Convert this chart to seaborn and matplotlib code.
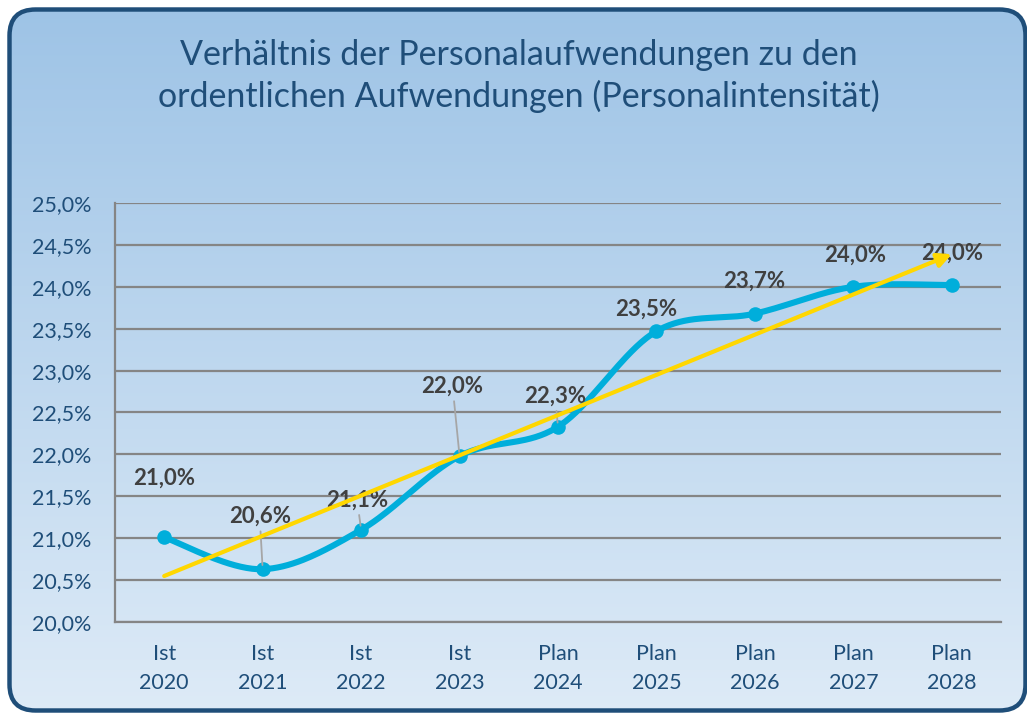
import numpy as np
import pandas as pd
import matplotlib
matplotlib.use("Agg")
import matplotlib.pyplot as plt
import seaborn as sns
from matplotlib.patches import FancyBboxPatch
from matplotlib.colors import LinearSegmentedColormap

# ---------------- data ----------------
categories = ["Ist\n2020", "Ist\n2021", "Ist\n2022", "Ist\n2023", "Plan\n2024",
              "Plan\n2025", "Plan\n2026", "Plan\n2027", "Plan\n2028"]
values = [21.01, 20.63, 21.10, 21.98, 22.33, 23.47, 23.68, 24.00, 24.02]
y_ticks = [20.0, 20.5, 21.0, 21.5, 22.0, 22.5, 23.0, 23.5, 24.0, 24.5, 25.0]
title = "Verhältnis der Personalaufwendungen zu den\nordentlichen Aufwendungen (Personalintensität)"

# label offsets (pixels) and whether a leader line is drawn
label_dx = [0, -3, -4, -7, -3, -10, -1, 2, 0]
label_dy = [59, 53, 30, 70, 31, 22, 32, 32, 32]
leader = [False, True, True, True, True, False, False, False, False]

TXT = "#1F4E79"
LINE = "#00AEDB"
TREND = "#FFD700"
GRID = "#858585"

sns.set_theme(style="white")
plt.rcParams["font.family"] = ["Lato", "DejaVu Sans"]

W, H = 1027, 715
fig = plt.figure(figsize=(W / 100, H / 100), dpi=100)
fig.patch.set_facecolor("white")

# ---------------- background panel ----------------
bg = fig.add_axes([0, 0, 1, 1])
bg.axis("off")
cmap = LinearSegmentedColormap.from_list("g", ["#9DC3E6", "#DEEBF7"])
im = bg.imshow(np.linspace(0, 1, 256).reshape(-1, 1), cmap=cmap,
               extent=(0, W, H, 0), aspect="auto", zorder=0)
panel = FancyBboxPatch((9.5, 9.5), 1016, 701,
                       boxstyle="round,pad=0,rounding_size=26",
                       fc="none", ec=TXT, lw=3.2, zorder=2)
bg.add_patch(panel)
im.set_clip_path(panel)
bg.set_xlim(0, W)
bg.set_ylim(H, 0)

TFS = 24.5
fig.text(519 / W, 1 - 76 / H, title, ha="center", va="center",
         fontsize=TFS, color=TXT, linespacing=46 / (TFS * 100 / 72))

# ---------------- main axes ----------------
ax = fig.add_axes([115 / W, 1 - 622 / H, 886 / W, 419 / H])
ax.patch.set_alpha(0)

x = np.arange(len(values))
vals = np.array(values)

# Excel-like smoothed line (Catmull-Rom / Bezier)
pts = np.column_stack([x, vals]).astype(float)
ext = np.vstack([pts[0], pts, pts[-1]])
t = np.linspace(0, 1, 40)
curve = []
for i in range(len(pts) - 1):
    p0 = ext[i + 1]
    p3 = ext[i + 2]
    p1 = p0 + (ext[i + 2] - ext[i]) / 6
    p2 = p3 - (ext[i + 3] - ext[i + 1]) / 6
    seg = ((1 - t) ** 3)[:, None] * p0 + (3 * (1 - t) ** 2 * t)[:, None] * p1 \
        + (3 * (1 - t) * t ** 2)[:, None] * p2 + (t ** 3)[:, None] * p3
    curve.append(seg if i == 0 else seg[1:])
curve = np.vstack(curve)
df_curve = pd.DataFrame({"x": curve[:, 0], "y": curve[:, 1]})
df_pts = pd.DataFrame({"x": x, "y": vals})

sns.lineplot(data=df_curve, x="x", y="y", sort=False, estimator=None,
             color=LINE, lw=4.4, ax=ax, zorder=3)
sns.scatterplot(data=df_pts, x="x", y="y", s=110, color=LINE,
                edgecolor=LINE, linewidth=0, ax=ax, zorder=4)

# data labels
for i, v in enumerate(values):
    s = f"{v:.1f}".replace(".", ",") + "%"
    ap = dict(arrowstyle="-", color="#A6A6A6", lw=1.3, shrinkA=1, shrinkB=3) if leader[i] else None
    ax.annotate(s, xy=(x[i], v), xytext=(label_dx[i], label_dy[i]),
                textcoords="offset pixels", ha="center", va="center",
                fontsize=16, fontweight="bold", color="#404040",
                arrowprops=ap, zorder=5)

# linear trend with arrow
coef = np.polyfit(x, vals, 1)
f = np.poly1d(coef)
ax.annotate("", xy=(x[-1], f(x[-1])), xytext=(x[0], f(x[0])),
            arrowprops=dict(arrowstyle="-|>,head_length=0.7,head_width=0.35",
                            color=TREND, lw=3, shrinkA=0, shrinkB=0),
            zorder=6)

ax.set_xlim(-0.5, len(values) - 0.5)
ax.set_ylim(20, 25)
ax.set_yticks(y_ticks)
ax.set_yticklabels([f"{v:.1f}".replace(".", ",") + "%" for v in y_ticks],
                   fontsize=15.5, color=TXT)
ax.set_xticks(x)
ax.set_xticklabels(categories, fontsize=15.5, color=TXT, linespacing=1.55)
ax.tick_params(axis="y", length=0, pad=17)
ax.tick_params(axis="x", length=0, pad=16)
ax.set_xlabel("")
ax.set_ylabel("")
ax.yaxis.grid(True, color=GRID, lw=1.6)
ax.xaxis.grid(False)
ax.set_axisbelow(True)
for side in ["top", "right"]:
    ax.spines[side].set_visible(False)
for side in ["left", "bottom"]:
    ax.spines[side].set_color(GRID)
    ax.spines[side].set_linewidth(1.6)

fig.savefig("out.png", dpi=100)
